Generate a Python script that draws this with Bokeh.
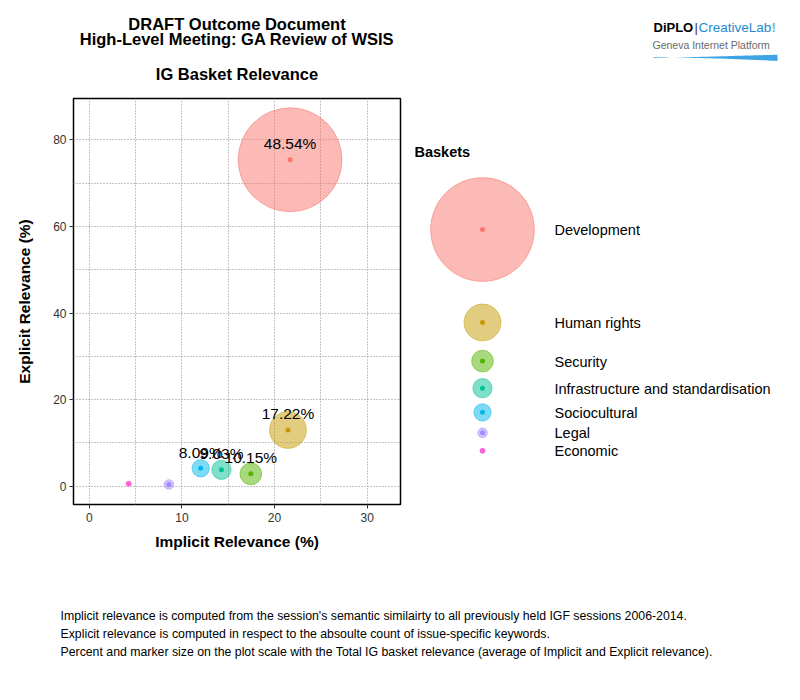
import numpy as np
from bokeh.plotting import figure
from bokeh.models import Range1d, FixedTicker
from bokeh.layouts import row, column
from bokeh.core.properties import value
from bokeh.embed import file_html
from bokeh.resources import INLINE

# ---------------- data ----------------
baskets = ["Development", "Human rights", "Security",
           "Infrastructure and standardisation", "Sociocultural", "Legal", "Economic"]
implicit = [21.68, 21.45, 17.44, 14.27, 12.03, 8.60, 4.26]
explicit = [75.40, 12.99, 2.86, 3.79, 4.15, 0.40, 0.60]
total = [48.54, 17.22, 10.15, 9.03, 8.09, 4.50, 2.43]
colors = ["#F8766D", "#C49A00", "#53B400", "#00C094", "#00B6EB", "#A58AFF", "#FB61D7"]
x_ticks = [0, 10, 20, 30]
x_minor = [5, 15, 25]
y_ticks = [0, 20, 40, 60, 80]
y_minor = [10, 30, 50, 70]
titles = ["DRAFT Outcome Document", "High-Level Meeting: GA Review of WSIS", "IG Basket Relevance"]
notes = ["Implicit relevance is computed from the session's semantic similairty to all previously held IGF sessions 2006-2014.",
         "Explicit relevance is computed in respect to the absoulte count of issue-specific keywords.",
         "Percent and marker size on the plot scale with the Total IG basket relevance (average of Implicit and Explicit relevance)."]

FONT = value("Liberation Sans")
PX_PER_PCT = 2.14          # marker diameter (px) per percent of total relevance
diam = [PX_PER_PCT * t for t in total]
labels = [f"{t:.2f}%" if t > 5 else "" for t in total]


def canvas(ox, oy, w, h, top=0, bottom=0):
    """Blank figure whose data coordinates equal page pixels."""
    f = figure(width=w, height=h, x_range=Range1d(ox, ox + w),
               y_range=Range1d(oy + h - bottom, oy + top),
               x_axis_type=None, y_axis_type=None, output_backend="svg",
               toolbar_location=None, min_border_left=0, min_border_right=0,
               min_border_top=top, min_border_bottom=bottom)
    f.grid.visible = False
    f.outline_line_color = None
    f.background_fill_color = "white"
    f.border_fill_color = "white"
    return f


# ---------------- header (titles + logo) ----------------
header = canvas(0, 0, 792, 88)
header.text(x=[236.5, 236.5, 236.5], y=[23, 38.5, 73.5], text=titles, text_font=FONT,
            text_font_size="16.5px", text_font_style="bold", text_align="center",
            text_baseline="middle", text_color="black")

header.text(x=[653], y=[27], text=["DiPLO"], text_font=FONT, text_font_size="13px",
            text_font_style="bold", text_baseline="middle", text_color="black")
header.text(x=[694], y=[27], text=["|"], text_font=FONT, text_font_size="13px",
            text_baseline="middle", text_color="#333333")
header.text(x=[698], y=[27], text=["CreativeLab"], text_font=FONT,
            text_font_size="13.5px", text_baseline="middle", text_color="#1D8BD1")
header.text(x=[771], y=[27], text=["!"], text_font=FONT, text_font_size="13px",
            text_font_style="bold", text_baseline="middle", text_color="#6BB7E6")
header.text(x=[652], y=[44.5], text=["Geneva Internet Platform"], text_font=FONT,
            text_font_size="10.5px", text_baseline="middle", text_color="#6a6a6a")
sx = np.linspace(653, 777, 40)
t = (sx - 653) / 124.0
top_edge = 56.0 + 1.5 * (1 - t) ** 2 - 1.8 * t ** 2
bot_edge = 56.7 + 1.2 * t + 2.6 * t ** 2
header.patch(x=np.concatenate([sx, sx[::-1]]), y=np.concatenate([top_edge, bot_edge[::-1]]),
             fill_color="#2A9AE0", line_color=None, fill_alpha=0.9)

# ---------------- main plot ----------------
p = figure(width=410, height=482, x_range=Range1d(-1.7, 33.6), y_range=Range1d(-4.22, 89.55),
           output_backend="svg", toolbar_location=None,
           min_border_left=73, min_border_right=10, min_border_top=10, min_border_bottom=66)
p.background_fill_color = "white"
p.border_fill_color = "white"
p.outline_line_color = "black"
p.outline_line_width = 1.5

p.xaxis.ticker = FixedTicker(ticks=x_ticks, minor_ticks=x_minor)
p.yaxis.ticker = FixedTicker(ticks=y_ticks, minor_ticks=y_minor)
for ax in (p.xaxis[0], p.yaxis[0]):
    ax.axis_line_color = None
    ax.major_tick_in = 0
    ax.major_tick_out = 4
    ax.major_tick_line_color = "#333333"
    ax.minor_tick_in = 0
    ax.minor_tick_out = 0
    ax.major_label_text_font = "Liberation Sans"
    ax.major_label_text_font_size = "12px"
    ax.major_label_text_color = "#333333"
    ax.axis_label_text_font = "Liberation Sans"
    ax.axis_label_text_font_size = "15.5px"
    ax.axis_label_text_font_style = "bold"
    ax.axis_label_text_color = "black"
p.xaxis.axis_label = "Implicit Relevance (%)"
p.yaxis.axis_label = "Explicit Relevance (%)"
p.xaxis.major_label_standoff = 4
p.xaxis.axis_label_standoff = 8
p.yaxis.major_label_standoff = 3
p.yaxis.axis_label_standoff = 17

for g in (p.xgrid[0], p.ygrid[0]):
    g.grid_line_color = "#8a8a8a"
    g.grid_line_dash = "1 2"
    g.grid_line_width = 1
    g.minor_grid_line_color = "#8a8a8a"
    g.minor_grid_line_dash = "1 2"
    g.minor_grid_line_width = 1

p.scatter(x=implicit, y=explicit, size=diam, fill_color=colors, fill_alpha=0.5,
          line_color=colors, line_alpha=0.5, line_width=1)
p.scatter(x=implicit, y=explicit, size=5, fill_color=colors, line_color=None)
p.text(x=implicit, y=explicit, text=labels, y_offset=-16, text_font=FONT,
       text_font_size="15.5px", text_align="center", text_baseline="middle", text_color="black")

# ---------------- right panel: legend ----------------
right = canvas(410, 88, 382, 482, top=10, bottom=66)
right.text(x=[414], y=[151], text=["Baskets"], text_font=FONT, text_font_size="14.5px",
           text_font_style="bold", text_baseline="middle", text_color="black")
key_h = np.maximum(1.32 * np.array(diam), 18.0)
legend_top = 160.5
key_y = legend_top + np.cumsum(key_h) - key_h / 2
key_x = [482] * len(baskets)
right.scatter(x=key_x, y=key_y, size=diam, fill_color=colors, fill_alpha=0.5,
              line_color=colors, line_alpha=0.5, line_width=1)
right.scatter(x=key_x, y=key_y, size=5, fill_color=colors, line_color=None)
right.text(x=[554] * len(baskets), y=key_y + 0.5, text=baskets, text_font=FONT,
           text_font_size="14.5px", text_baseline="middle", text_color="black")

# ---------------- footer ----------------
footer = canvas(0, 570, 792, 120)
footer.text(x=[60, 60, 60], y=[615, 633, 651], text=notes, text_font=FONT,
            text_font_size="12.3px", text_baseline="middle", text_color="black")

layout = column(header, row(p, right), footer)
open("out.html", "w").write(file_html(layout, INLINE))
